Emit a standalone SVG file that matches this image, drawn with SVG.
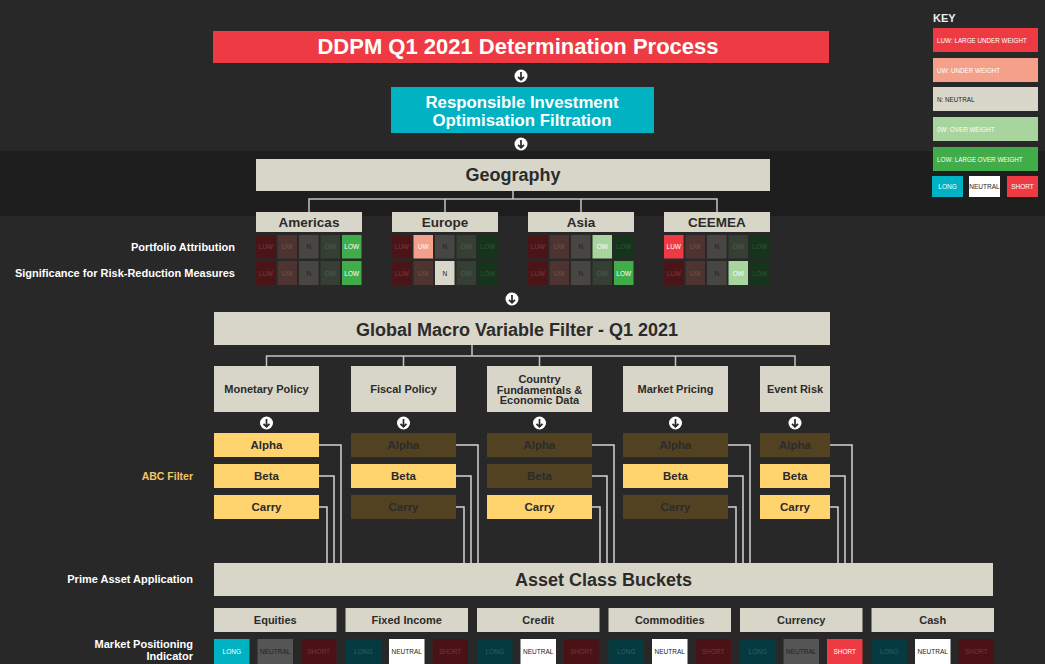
<svg xmlns="http://www.w3.org/2000/svg" xmlns:xlink="http://www.w3.org/1999/xlink" width="1045" height="664" viewBox="0 0 1045 664">
  <style>
    text { font-family: "Liberation Sans", Arial, sans-serif; font-weight: bold; }
    .mid { text-anchor: middle; }
    .end { text-anchor: end; }
    .box { fill: #d8d6c8; }
    .lbl { fill: #ffffff; font-size: 11px; }
    .hdr { font-size: 11px; fill: #2b2b2b; text-anchor: middle; }
    .reg { font-size: 13.5px; fill: #2b2b2b; text-anchor: middle; }
    .big { font-size: 18px; fill: #2b2b2b; text-anchor: middle; }
    .cell { font-size: 6.5px; text-anchor: middle; font-weight: normal; }
    .ktxt { font-size: 6.3px; fill: #ffffff; font-weight: normal; }
    .wire { fill: none; stroke: #d4d4d4; stroke-width: 1.5; }
    .tree { fill: none; stroke: #c4c4c4; stroke-width: 1.5; }
    /* weighting cells */
    .luw0 { fill: #4b1518; } .luw0t { fill: #7b3a3c; }
    .uw0 { fill: #4e3430; } .uw0t { fill: #6c5550; }
    .n0 { fill: #474643; } .n0t { fill: #1f1f1f; }
    .ow0 { fill: #363f34; } .ow0t { fill: #515d4e; }
    .low0 { fill: #15341b; } .low0t { fill: #2f5535; }
    .luw1 { fill: #ee3a42; } .uw1 { fill: #f4a08b; } .n1 { fill: #d9d7c9; }
    .ow1 { fill: #a8d49d; } .low1 { fill: #40ad4a; }
    .wt { fill: #ffffff; } .dt { fill: #222222; }
    /* ABC filter */
    .on { fill: #ffd36e; } .off { fill: #524222; }
    .abct { font-size: 11.5px; fill: #2b2b2b; text-anchor: middle; }
    /* positioning */
    .long1 { fill: #00b2c2; } .long0 { fill: #053a40; } .long0t { fill: #2e6066; }
    .neu1 { fill: #ffffff; } .neu0 { fill: #555555; }
    .sh1 { fill: #ee3a42; } .sh0 { fill: #4a1216; } .sh0t { fill: #6e3a3c; }
  </style>
  <defs>
    <g id="arrow">
      <circle r="6.5" fill="#ffffff"/>
      <path d="M0,-4 V3.6 M-3,0.8 L0,3.8 L3,0.8" fill="none" stroke="#282828" stroke-width="1.7"/>
    </g>
  </defs>

  <!-- background -->
  <rect width="1045" height="664" fill="#282828"/>
  <rect y="151" width="1045" height="65" fill="#1e1e1e"/>

  <!-- connectors -->
  <g id="connectors">
    <use xlink:href="#arrow" x="521" y="76"/>
    <use xlink:href="#arrow" x="521" y="144"/>
    <path class="tree" d="M513,191 V199 M309,212 V199 H717 V212 M445,199 V212 M581,199 V212"/>
    <use xlink:href="#arrow" x="512" y="299"/>
    <path class="tree" d="M472,345 V356 M266.5,366 V356 H795 V366 M403.5,356 V366 M539.5,356 V366 M675.5,356 V366"/>
    <use xlink:href="#arrow" x="266.5" y="423"/>
    <use xlink:href="#arrow" x="403.5" y="423"/>
    <use xlink:href="#arrow" x="539.5" y="423"/>
    <use xlink:href="#arrow" x="675.5" y="423"/>
    <use xlink:href="#arrow" x="795" y="423"/>
    <path class="wire" d="M319,445 H341 V563 M319,476 H334 V563 M319,507 H327 V563"/>
    <path class="wire" d="M456,445 H478 V563 M456,476 H471 V563 M456,507 H464 V563"/>
    <path class="wire" d="M592,445 H614 V563 M592,476 H607 V563 M592,507 H600 V563"/>
    <path class="wire" d="M728,445 H750 V563 M728,476 H743 V563 M728,507 H736 V563"/>
    <path class="wire" d="M830,445 H852 V563 M830,476 H845 V563 M830,507 H838 V563"/>
  </g>

  <!-- title -->
  <g id="title">
    <rect x="213" y="31" width="616" height="32" fill="#ee3a42"/>
    <text x="518" y="54" class="mid" fill="#ffffff" font-size="22">DDPM Q1 2021 Determination Process</text>
  </g>

  <g id="ri-filter">
    <rect x="391" y="87" width="263" height="46" fill="#00b2c2"/>
    <text x="522" y="107.5" class="mid" fill="#ffffff" font-size="16.8">Responsible Investment</text>
    <text x="522" y="125.5" class="mid" fill="#ffffff" font-size="16.8">Optimisation Filtration</text>
  </g>

  <g id="geography">
    <rect class="box" x="256" y="159" width="514" height="32"/>
    <text x="513" y="181" class="big">Geography</text>
  </g>

  <!-- row labels -->
  <g id="geo-labels">
    <text x="235" y="251" class="lbl end">Portfolio Attribution</text>
    <text x="235" y="277" class="lbl end">Significance for Risk-Reduction Measures</text>
  </g>

  <!-- region: Americas -->
  <g id="americas">
    <rect class="box" x="256" y="212" width="106" height="20"/>
    <text x="309" y="227" class="reg">Americas</text>
    <rect class="luw0" x="256" y="235" width="19.5" height="23.5"/><text class="cell luw0t" x="265.75" y="249">LUW</text>
    <rect class="uw0" x="277.5" y="235" width="19.5" height="23.5"/><text class="cell uw0t" x="287.25" y="249">UW</text>
    <rect class="n0" x="299" y="235" width="19.5" height="23.5"/><text class="cell n0t" x="308.75" y="249">N</text>
    <rect class="ow0" x="320.5" y="235" width="19.5" height="23.5"/><text class="cell ow0t" x="330.25" y="249">OW</text>
    <rect class="low1" x="342" y="235" width="19.5" height="23.5"/><text class="cell wt" x="351.75" y="249">LOW</text>
    <rect class="luw0" x="256" y="261" width="19.5" height="24"/><text class="cell luw0t" x="265.75" y="275.5">LUW</text>
    <rect class="uw0" x="277.5" y="261" width="19.5" height="24"/><text class="cell uw0t" x="287.25" y="275.5">UW</text>
    <rect class="n0" x="299" y="261" width="19.5" height="24"/><text class="cell n0t" x="308.75" y="275.5">N</text>
    <rect class="ow0" x="320.5" y="261" width="19.5" height="24"/><text class="cell ow0t" x="330.25" y="275.5">OW</text>
    <rect class="low1" x="342" y="261" width="19.5" height="24"/><text class="cell wt" x="351.75" y="275.5">LOW</text>
  </g>

  <!-- region: Europe -->
  <g id="europe">
    <rect class="box" x="392" y="212" width="106" height="20"/>
    <text x="445" y="227" class="reg">Europe</text>
    <rect class="luw0" x="392" y="235" width="19.5" height="23.5"/><text class="cell luw0t" x="401.75" y="249">LUW</text>
    <rect class="uw1" x="413.5" y="235" width="19.5" height="23.5"/><text class="cell wt" x="423.25" y="249">UW</text>
    <rect class="n0" x="435" y="235" width="19.5" height="23.5"/><text class="cell n0t" x="444.75" y="249">N</text>
    <rect class="ow0" x="456.5" y="235" width="19.5" height="23.5"/><text class="cell ow0t" x="466.25" y="249">OW</text>
    <rect class="low0" x="478" y="235" width="19.5" height="23.5"/><text class="cell low0t" x="487.75" y="249">LOW</text>
    <rect class="luw0" x="392" y="261" width="19.5" height="24"/><text class="cell luw0t" x="401.75" y="275.5">LUW</text>
    <rect class="uw0" x="413.5" y="261" width="19.5" height="24"/><text class="cell uw0t" x="423.25" y="275.5">UW</text>
    <rect class="n1" x="435" y="261" width="19.5" height="24"/><text class="cell dt" x="444.75" y="275.5">N</text>
    <rect class="ow0" x="456.5" y="261" width="19.5" height="24"/><text class="cell ow0t" x="466.25" y="275.5">OW</text>
    <rect class="low0" x="478" y="261" width="19.5" height="24"/><text class="cell low0t" x="487.75" y="275.5">LOW</text>
  </g>

  <!-- region: Asia -->
  <g id="asia">
    <rect class="box" x="528" y="212" width="106" height="20"/>
    <text x="581" y="227" class="reg">Asia</text>
    <rect class="luw0" x="528" y="235" width="19.5" height="23.5"/><text class="cell luw0t" x="537.75" y="249">LUW</text>
    <rect class="uw0" x="549.5" y="235" width="19.5" height="23.5"/><text class="cell uw0t" x="559.25" y="249">UW</text>
    <rect class="n0" x="571" y="235" width="19.5" height="23.5"/><text class="cell n0t" x="580.75" y="249">N</text>
    <rect class="ow1" x="592.5" y="235" width="19.5" height="23.5"/><text class="cell wt" x="602.25" y="249">OW</text>
    <rect class="low0" x="614" y="235" width="19.5" height="23.5"/><text class="cell low0t" x="623.75" y="249">LOW</text>
    <rect class="luw0" x="528" y="261" width="19.5" height="24"/><text class="cell luw0t" x="537.75" y="275.5">LUW</text>
    <rect class="uw0" x="549.5" y="261" width="19.5" height="24"/><text class="cell uw0t" x="559.25" y="275.5">UW</text>
    <rect class="n0" x="571" y="261" width="19.5" height="24"/><text class="cell n0t" x="580.75" y="275.5">N</text>
    <rect class="ow0" x="592.5" y="261" width="19.5" height="24"/><text class="cell ow0t" x="602.25" y="275.5">OW</text>
    <rect class="low1" x="614" y="261" width="19.5" height="24"/><text class="cell wt" x="623.75" y="275.5">LOW</text>
  </g>

  <!-- region: CEEMEA -->
  <g id="ceemea">
    <rect class="box" x="664" y="212" width="106" height="20"/>
    <text x="717" y="227" class="reg">CEEMEA</text>
    <rect class="luw1" x="664" y="235" width="19.5" height="23.5"/><text class="cell wt" x="673.75" y="249">LUW</text>
    <rect class="uw0" x="685.5" y="235" width="19.5" height="23.5"/><text class="cell uw0t" x="695.25" y="249">UW</text>
    <rect class="n0" x="707" y="235" width="19.5" height="23.5"/><text class="cell n0t" x="716.75" y="249">N</text>
    <rect class="ow0" x="728.5" y="235" width="19.5" height="23.5"/><text class="cell ow0t" x="738.25" y="249">OW</text>
    <rect class="low0" x="750" y="235" width="19.5" height="23.5"/><text class="cell low0t" x="759.75" y="249">LOW</text>
    <rect class="luw0" x="664" y="261" width="19.5" height="24"/><text class="cell luw0t" x="673.75" y="275.5">LUW</text>
    <rect class="uw0" x="685.5" y="261" width="19.5" height="24"/><text class="cell uw0t" x="695.25" y="275.5">UW</text>
    <rect class="n0" x="707" y="261" width="19.5" height="24"/><text class="cell n0t" x="716.75" y="275.5">N</text>
    <rect class="ow1" x="728.5" y="261" width="19.5" height="24"/><text class="cell wt" x="738.25" y="275.5">OW</text>
    <rect class="low0" x="750" y="261" width="19.5" height="24"/><text class="cell low0t" x="759.75" y="275.5">LOW</text>
  </g>

  <!-- macro filter -->
  <g id="macro-filter">
    <rect class="box" x="214" y="312" width="616" height="33"/>
    <text x="517" y="335.5" class="big" font-size="20">Global Macro Variable Filter - Q1 2021</text>
  </g>

  <g id="monetary-policy">
    <rect class="box" x="214" y="366" width="105" height="46"/>
    <text x="266.5" y="393" class="hdr">Monetary Policy</text>
  </g>
  <g id="fiscal-policy">
    <rect class="box" x="351" y="366" width="105" height="46"/>
    <text x="403.5" y="393" class="hdr">Fiscal Policy</text>
  </g>
  <g id="country-data">
    <rect class="box" x="487" y="366" width="105" height="46"/>
    <text x="539.5" y="382.5" class="hdr">Country</text>
    <text x="539.5" y="393.5" class="hdr">Fundamentals &amp;</text>
    <text x="539.5" y="404" class="hdr">Economic Data</text>
  </g>
  <g id="market-pricing">
    <rect class="box" x="623" y="366" width="105" height="46"/>
    <text x="675.5" y="393" class="hdr">Market Pricing</text>
  </g>
  <g id="event-risk">
    <rect class="box" x="760" y="366" width="70" height="46"/>
    <text x="795" y="393" class="hdr">Event Risk</text>
  </g>

  <!-- ABC filter -->
  <text x="193" y="480" class="end" font-size="10.5" fill="#f2c566">ABC Filter</text>
  <g id="abc-monetary">
    <rect class="on" x="214" y="433" width="105" height="24"/><text class="abct" x="266.5" y="449">Alpha</text>
    <rect class="on" x="214" y="464" width="105" height="24"/><text class="abct" x="266.5" y="480">Beta</text>
    <rect class="on" x="214" y="495" width="105" height="24"/><text class="abct" x="266.5" y="511">Carry</text>
  </g>
  <g id="abc-fiscal">
    <rect class="off" x="351" y="433" width="105" height="24"/><text class="abct" x="403.5" y="449">Alpha</text>
    <rect class="on" x="351" y="464" width="105" height="24"/><text class="abct" x="403.5" y="480">Beta</text>
    <rect class="off" x="351" y="495" width="105" height="24"/><text class="abct" x="403.5" y="511">Carry</text>
  </g>
  <g id="abc-country">
    <rect class="off" x="487" y="433" width="105" height="24"/><text class="abct" x="539.5" y="449">Alpha</text>
    <rect class="off" x="487" y="464" width="105" height="24"/><text class="abct" x="539.5" y="480">Beta</text>
    <rect class="on" x="487" y="495" width="105" height="24"/><text class="abct" x="539.5" y="511">Carry</text>
  </g>
  <g id="abc-market">
    <rect class="off" x="623" y="433" width="105" height="24"/><text class="abct" x="675.5" y="449">Alpha</text>
    <rect class="on" x="623" y="464" width="105" height="24"/><text class="abct" x="675.5" y="480">Beta</text>
    <rect class="off" x="623" y="495" width="105" height="24"/><text class="abct" x="675.5" y="511">Carry</text>
  </g>
  <g id="abc-event">
    <rect class="off" x="760" y="433" width="70" height="24"/><text class="abct" x="795" y="449">Alpha</text>
    <rect class="on" x="760" y="464" width="70" height="24"/><text class="abct" x="795" y="480">Beta</text>
    <rect class="on" x="760" y="495" width="70" height="24"/><text class="abct" x="795" y="511">Carry</text>
  </g>

  <!-- asset class buckets -->
  <text x="193" y="583" class="lbl end">Prime Asset Application</text>
  <g id="asset-buckets">
    <rect class="box" x="214" y="563" width="779" height="33"/>
    <text x="603.5" y="586" class="big" font-size="17.2">Asset Class Buckets</text>
  </g>

  <text x="193" y="648" class="lbl end">Market Positioning</text>
  <text x="193" y="660" class="lbl end">Indicator</text>

  <g id="equities">
    <rect class="box" x="214" y="608" width="122.5" height="24"/>
    <text x="275.25" y="624" class="hdr" font-size="11.5">Equities</text>
    <rect class="long1" x="214" y="639" width="35.5" height="25"/><text class="cell wt" x="231.75" y="654">LONG</text>
    <rect class="neu0" x="257.5" y="639" width="35.5" height="25"/><text class="cell dt" x="275.25" y="654">NEUTRAL</text>
    <rect class="sh0" x="301" y="639" width="35.5" height="25"/><text class="cell sh0t" x="318.75" y="654">SHORT</text>
  </g>
  <g id="fixed-income">
    <rect class="box" x="345.5" y="608" width="122.5" height="24"/>
    <text x="406.75" y="624" class="hdr" font-size="11.5">Fixed Income</text>
    <rect class="long0" x="345.5" y="639" width="35.5" height="25"/><text class="cell long0t" x="363.25" y="654">LONG</text>
    <rect class="neu1" x="389" y="639" width="35.5" height="25"/><text class="cell dt" x="406.75" y="654">NEUTRAL</text>
    <rect class="sh0" x="432.5" y="639" width="35.5" height="25"/><text class="cell sh0t" x="450.25" y="654">SHORT</text>
  </g>
  <g id="credit">
    <rect class="box" x="477" y="608" width="122.5" height="24"/>
    <text x="538.25" y="624" class="hdr" font-size="11.5">Credit</text>
    <rect class="long0" x="477" y="639" width="35.5" height="25"/><text class="cell long0t" x="494.75" y="654">LONG</text>
    <rect class="neu1" x="520.5" y="639" width="35.5" height="25"/><text class="cell dt" x="538.25" y="654">NEUTRAL</text>
    <rect class="sh0" x="564" y="639" width="35.5" height="25"/><text class="cell sh0t" x="581.75" y="654">SHORT</text>
  </g>
  <g id="commodities">
    <rect class="box" x="608.5" y="608" width="122.5" height="24"/>
    <text x="669.75" y="624" class="hdr" font-size="11.5">Commodities</text>
    <rect class="long0" x="608.5" y="639" width="35.5" height="25"/><text class="cell long0t" x="626.25" y="654">LONG</text>
    <rect class="neu1" x="652" y="639" width="35.5" height="25"/><text class="cell dt" x="669.75" y="654">NEUTRAL</text>
    <rect class="sh0" x="695.5" y="639" width="35.5" height="25"/><text class="cell sh0t" x="713.25" y="654">SHORT</text>
  </g>
  <g id="currency">
    <rect class="box" x="740" y="608" width="122.5" height="24"/>
    <text x="801.25" y="624" class="hdr" font-size="11.5">Currency</text>
    <rect class="long0" x="740" y="639" width="35.5" height="25"/><text class="cell long0t" x="757.75" y="654">LONG</text>
    <rect class="neu0" x="783.5" y="639" width="35.5" height="25"/><text class="cell dt" x="801.25" y="654">NEUTRAL</text>
    <rect class="sh1" x="827" y="639" width="35.5" height="25"/><text class="cell wt" x="844.75" y="654">SHORT</text>
  </g>
  <g id="cash">
    <rect class="box" x="871.5" y="608" width="122.5" height="24"/>
    <text x="932.75" y="624" class="hdr" font-size="11.5">Cash</text>
    <rect class="long0" x="871.5" y="639" width="35.5" height="25"/><text class="cell long0t" x="889.25" y="654">LONG</text>
    <rect class="neu1" x="915" y="639" width="35.5" height="25"/><text class="cell dt" x="932.75" y="654">NEUTRAL</text>
    <rect class="sh0" x="958.5" y="639" width="35.5" height="25"/><text class="cell sh0t" x="976.25" y="654">SHORT</text>
  </g>

  <!-- key -->
  <g id="key">
    <text x="933" y="22" font-size="11" fill="#eeeeee">KEY</text>
    <rect class="luw1" x="933" y="28" width="105" height="24"/><text class="ktxt" x="937" y="42.5">LUW: LARGE UNDER WEIGHT</text>
    <rect class="uw1" x="933" y="58" width="105" height="24"/><text class="ktxt" x="937" y="72.5">UW: UNDER WEIGHT</text>
    <rect class="n1" x="933" y="87" width="105" height="24"/><text class="ktxt" x="937" y="101.5" style="fill:#222222">N: NEUTRAL</text>
    <rect class="ow1" x="933" y="117" width="105" height="24"/><text class="ktxt" x="937" y="131.5">0W: OVER WEIGHT</text>
    <rect class="low1" x="933" y="147" width="105" height="24"/><text class="ktxt" x="937" y="161.5">LOW: LARGE OVER WEIGHT</text>
    <rect class="long1" x="932" y="176" width="31" height="21"/><text class="cell wt" x="947.5" y="189">LONG</text>
    <rect class="neu1" x="969" y="176" width="31" height="21"/><text class="cell dt" x="984.5" y="189">NEUTRAL</text>
    <rect class="sh1" x="1007" y="176" width="31" height="21"/><text class="cell wt" x="1022.5" y="189">SHORT</text>
  </g>
</svg>
